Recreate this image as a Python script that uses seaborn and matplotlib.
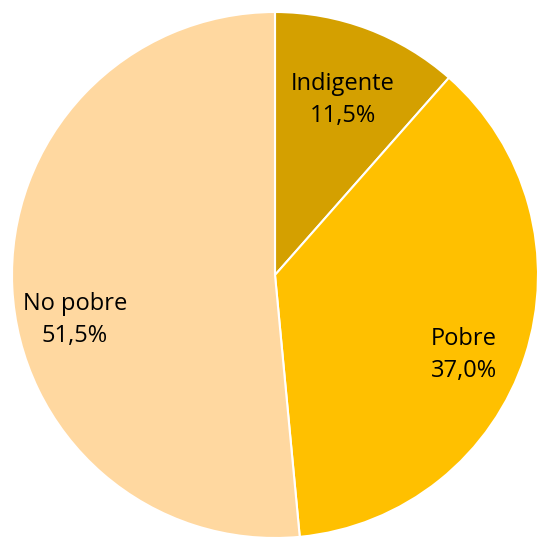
import matplotlib
matplotlib.use("Agg")
import matplotlib.pyplot as plt
import seaborn as sns
import numpy as np

sns.set_theme(style="white")
plt.rcParams['font.family'] = ['Open Sans', 'DejaVu Sans']

categories = ["Indigente", "Pobre", "No pobre"]
values = [11.5, 37.0, 51.5]
colors = ["#D4A000", "#FFC000", "#FFD8A0"]

fig = plt.figure(figsize=(5.37, 5.37), dpi=100)
R = 263 / 537
cx, cy = 275 / 537, 1 - 275 / 537
ax = fig.add_axes([cx - R, cy - R, 2 * R, 2 * R])

labels = [f"{c}\n{v:.1f}%".replace(".", ",") for c, v in zip(categories, values)]
wedges, texts = ax.pie(values, colors=colors, startangle=90, counterclock=False,
                       labels=labels, labeldistance=0.75,
                       wedgeprops=dict(edgecolor="white", linewidth=1.5),
                       textprops=dict(fontsize=17, color="black", ha="center", va="center",
                                      linespacing=1.45))

# label placement (radius fraction, angle in degrees)
label_pos = [(0.715, 68.8), (0.78, -23.0), (0.78, 192.7)]
for t, (r, a) in zip(texts, label_pos):
    t.set_position((r * np.cos(np.radians(a)), r * np.sin(np.radians(a))))
    t.set_ha("center")
    t.set_va("center")
    t.set_multialignment("center")

ax.set_xlim(-1, 1)
ax.set_ylim(-1, 1)
ax.set_aspect("equal")
ax.axis("off")
fig.savefig("out.png", dpi=100, facecolor="white")
